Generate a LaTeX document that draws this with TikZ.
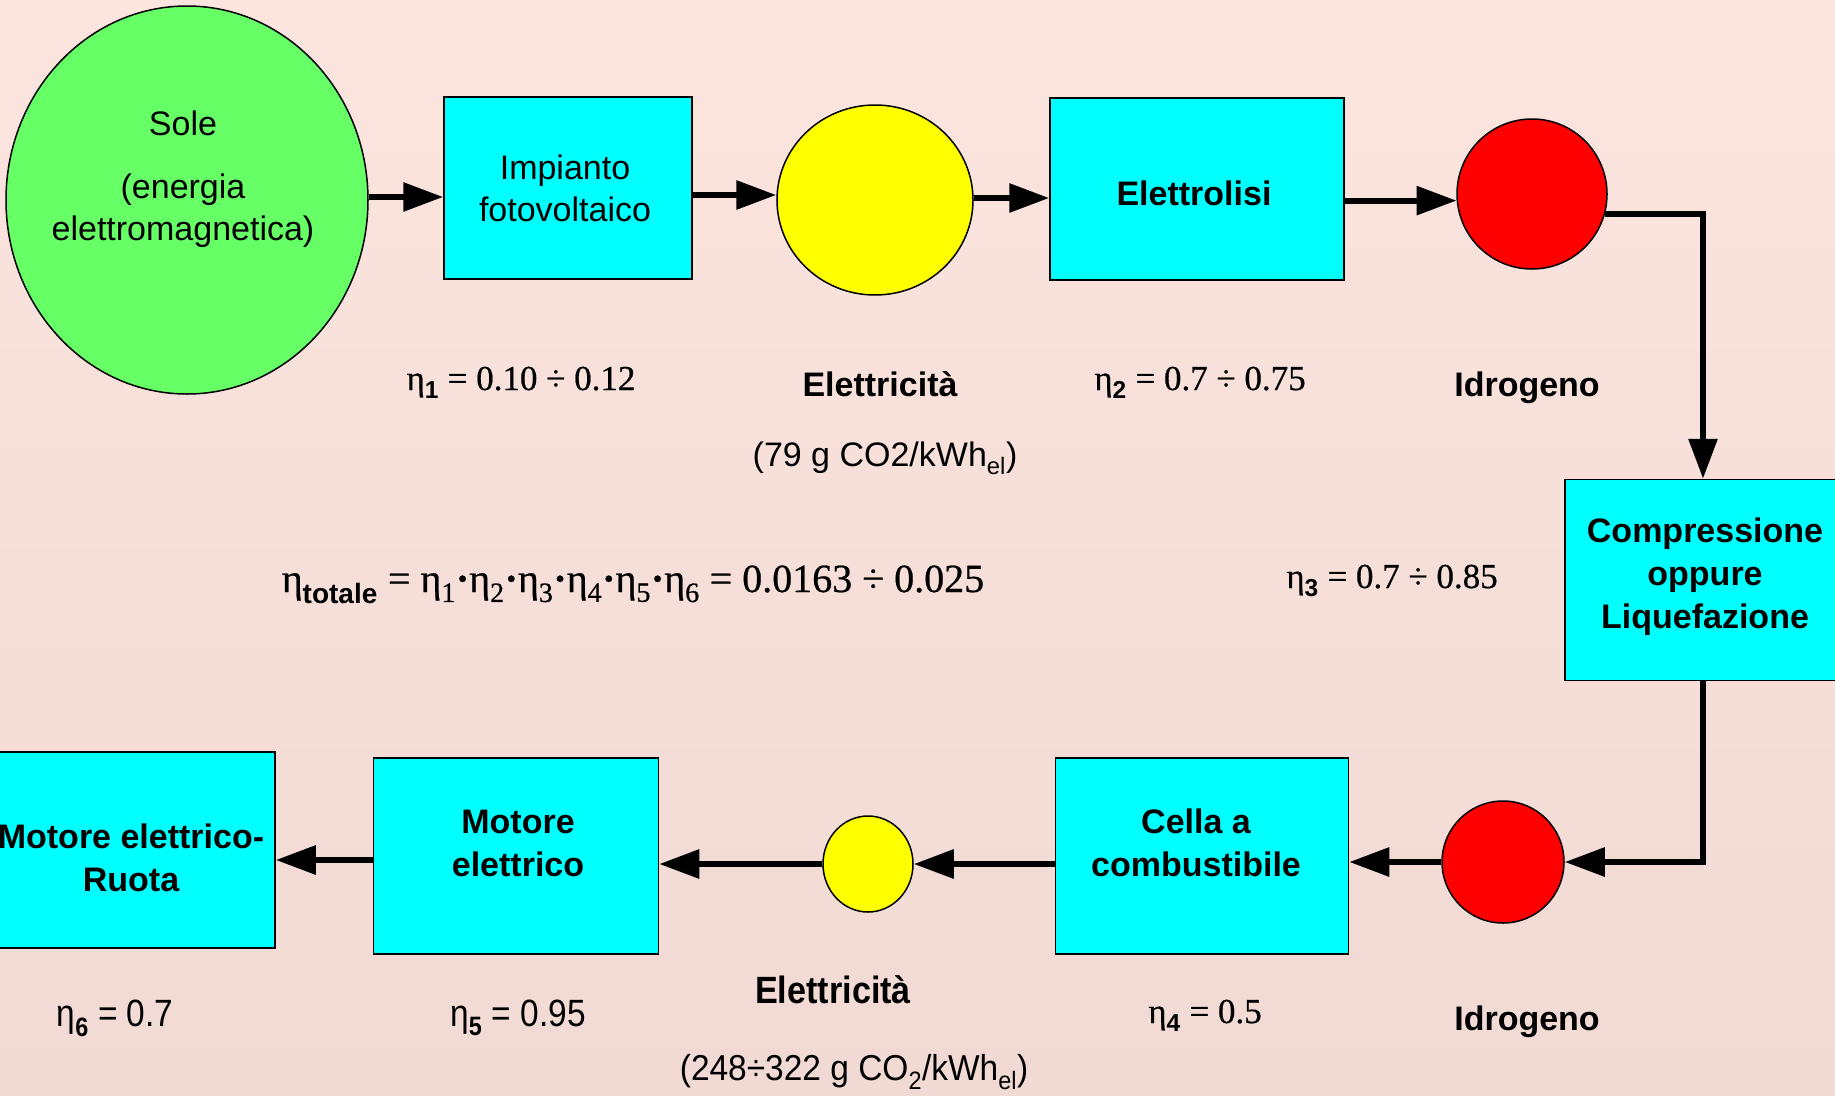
\documentclass[tikz,border=0pt]{standalone}
\usepackage{fontspec}
\setmainfont{Liberation Serif}
\setsansfont{Liberation Sans}
\newfontfamily\etafont{Liberation Serif}[FakeBold=0.6]
\usetikzlibrary{shapes.geometric,arrows.meta,calc}

\definecolor{bgtop}{RGB}{252,229,223}
\definecolor{bgbot}{RGB}{241,218,212}
\definecolor{boxcyan}{RGB}{0,255,255}
\definecolor{sungreen}{RGB}{102,255,102}
\definecolor{elyellow}{RGB}{255,255,0}
\definecolor{hred}{RGB}{255,0,0}

% efficiency symbol with a bold sans subscript
\newcommand{\etasb}[1]{η\textsubscript{\sffamily\bfseries #1}}

\tikzset{
  sans/.style={font=\sffamily\fontsize{34}{42}\selectfont, align=center, inner sep=0pt},
  bsans/.style={font=\sffamily\bfseries\fontsize{34}{43}\selectfont, align=center, inner sep=0pt},
  etalab/.style={font=\etafont\fontsize{35}{40}\selectfont, anchor=base, inner sep=0pt},
  box/.style={draw=black, line width=1.5pt, fill=boxcyan, rectangle, inner sep=0pt},
  disc/.style={draw=black, line width=1.5pt, ellipse, inner sep=0pt},
  flow/.style={line width=6pt, -{Triangle[length=40pt,width=28pt]}},
}

\begin{document}
\begin{tikzpicture}[x=1pt,y=-1pt]
  \useasboundingbox (0,0) rectangle (1835,1095);
  \shade[top color=bgtop, bottom color=bgbot] (0,0) rectangle (1835,1095);

  % ---- shapes ----
  \node[disc, fill=sungreen, minimum width=362pt, minimum height=388pt] (sole) at (187,200) {};
  \node[box, minimum width=248pt, minimum height=182pt] (pv) at (568,188) {};
  \node[disc, fill=elyellow, minimum width=196pt, minimum height=190pt] (yel1) at (875,200) {};
  \node[box, minimum width=294pt, minimum height=182pt] (el) at (1197,189) {};
  \node[disc, fill=hred, minimum width=150pt, minimum height=150pt] (h1) at (1532,194) {};
  \node[box, minimum width=276pt, minimum height=201pt] (comp) at (1703,580) {};
  \node[disc, fill=hred, minimum width=122pt, minimum height=122pt] (h2) at (1503,862) {};
  \node[box, minimum width=293pt, minimum height=196pt] (cell) at (1202,856) {};
  \node[disc, fill=elyellow, minimum width=90pt, minimum height=96pt] (yel2) at (868,864) {};
  \node[box, minimum width=285pt, minimum height=196pt] (mot) at (516,856) {};
  \node[box, minimum width=286pt, minimum height=196pt] (ruota) at (132,850) {};

  % ---- texts inside the shapes ----
  \node[sans] (soletxt) at (183,179) {Sole\\[21pt](energia\\elettromagnetica)};
  \node[sans] (pvtxt) at (565,188) {Impianto\\fotovoltaico};
  \node[bsans] (eltxt) at (1194,193) {Elettrolisi};
  \node[bsans] (comptxt) at (1705,577) {Compressione\\oppure\\Liquefazione};
  \node[bsans] (celltxt) at (1196,843) {Cella a\\combustibile};
  \node[bsans] (mottxt) at (518,843) {Motore\\elettrico};
  \node[bsans] (ruotatxt) at (131,858) {Motore elettrico-\\Ruota};

  % ---- flow connectors ----
  \draw[flow] (sole.east) ++(0,-3) -- ($(sole.east -| pv.west)+(0,-3)$);
  \draw[flow] ($(yel1.west -| pv.east)+(0,-5)$) -- ($(yel1.west)+(0,-5)$);
  \draw[flow] (yel1.east) ++(0,-2) -- ($(yel1.east -| el.west)+(0,-2)$);
  \draw[flow] (h1.185 -| el.east) -- (h1.185);
  \draw[flow] (h1.-15) -- (h1.-15 -| comp.north) -- (comp.north);
  \draw[flow] (comp.south) -- (comp.south |- h2.east) -- (h2.east);
  \draw[flow] (h2.west) -- (h2.west -| cell.east);
  \draw[flow] (yel2.east -| cell.west) -- (yel2.east);
  \draw[flow] (yel2.west) -- (yel2.west -| mot.east);
  \draw[flow] (mot.west) ++(0,4) -- ($(mot.west -| ruota.east)+(0,4)$);

  % ---- efficiencies ----
  \node[etalab] (eta1) at (521,390) {\etasb{1} = 0.10 ÷ 0.12};
  \node[etalab] (eta2) at (1200,390) {\etasb{2} = 0.7 ÷ 0.75};
  \node[etalab] (eta3) at (1392,588) {\etasb{3} = 0.7 ÷ 0.85};
  \node[etalab] (eta4) at (1205,1023) {\etasb{4} = 0.5};
  \node[etalab, font=\sffamily\fontsize{38}{42}\selectfont] (eta6) at (115,1026)
    {\scalebox{0.88}[1]{η\textsubscript{\bfseries 6} = 0.7}};
  \node[etalab, font=\sffamily\fontsize{38}{42}\selectfont] (eta5) at (518,1026)
    {\scalebox{0.88}[1]{η\textsubscript{\bfseries 5} = 0.95}};
  \node[etalab, font=\etafont\fontsize{40}{46}\selectfont] (etatot) at (633,592)
    {\etasb{totale} = η\textsubscript{1}{\bfseries ·}η\textsubscript{2}{\bfseries ·}η\textsubscript{3}{\bfseries ·}η\textsubscript{4}{\bfseries ·}η\textsubscript{5}{\bfseries ·}η\textsubscript{6} = 0.0163 ÷ 0.025};

  % ---- captions ----
  \node[bsans, anchor=base] (elcap1) at (880,396) {Elettricità};
  \node[sans, anchor=base] (co2a) at (885,466) {(79 g CO2/kWh\textsubscript{el})};
  \node[bsans, anchor=base] (h2cap1) at (1527,396) {Idrogeno};
  \node[bsans, anchor=base, font=\sffamily\bfseries\fontsize{38}{44}\selectfont] (elcap2) at (833,1003)
    {\scalebox{0.9}[1]{Elettricità}};
  \node[sans, anchor=base, font=\sffamily\fontsize{36}{40}\selectfont] (co2b) at (854,1080)
    {\scalebox{0.93}[1]{(248÷322 g CO\textsubscript{2}/kWh\textsubscript{el})}};
  \node[bsans, anchor=base] (h2cap2) at (1527,1030) {Idrogeno};
\end{tikzpicture}
\end{document}
